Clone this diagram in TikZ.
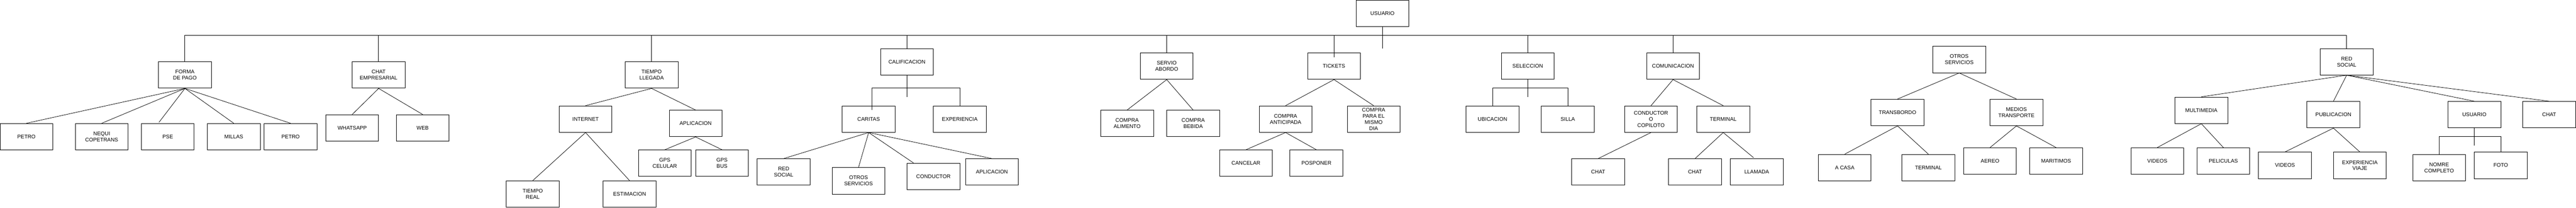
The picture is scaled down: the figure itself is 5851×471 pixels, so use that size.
\documentclass[tikz,border=0pt]{standalone}
\usepackage{fontspec}
\setmainfont{Liberation Sans}
\begin{document}
\begin{tikzpicture}[x=1pt,y=1pt,line width=1pt,
    caja/.style={draw,fill=white,minimum width=120pt,minimum height=60pt,inner sep=2pt,align=center,font=\fontsize{12}{14}\selectfont},
    rama/.style={line width=0.9pt}]
    \useasboundingbox (0,0) rectangle (5851,-471);
    % raiz y primer nivel
    \node[caja] (usuario) at (3140,-30) {USUARIO};
    \node[caja] (forma) at (420,-170) {FORMA\\DE PAGO};
    \node[caja] (chatemp) at (860,-170) {CHAT\\EMPRESARIAL};
    \node[caja] (tllegada) at (1480,-170) {TIEMPO\\LLEGADA};
    \node[caja] (calif) at (2060,-140) {CALIFICACION};
    \node[caja] (servicio) at (2650,-150) {SERVIO\\ABORDO};
    \node[caja] (tickets) at (3030,-150) {TICKETS};
    \node[caja] (seleccion) at (3470,-150) {SELECCION};
    \node[caja] (comunic) at (3800,-150) {COMUNICACION};
    \node[caja] (otros) at (4450,-135) {OTROS\\SERVICIOS};
    \node[caja] (redsocial) at (5330,-140) {RED\\SOCIAL};
    % forma de pago
    \node[caja] (petroa) at (60,-310) {PETRO};
    \node[caja] (nequi) at (231,-310) {NEQUI\\COPETRANS};
    \node[caja] (pse) at (381,-310) {PSE};
    \node[caja] (millas) at (531,-310) {MILLAS};
    \node[caja] (petrob) at (660,-310) {PETRO};
    % chat empresarial
    \node[caja] (whatsapp) at (800,-290) {WHATSAPP};
    \node[caja] (web) at (960,-290) {WEB};
    % tiempo llegada
    \node[caja] (internet) at (1330,-270) {INTERNET};
    \node[caja] (treal) at (1210,-440) {TIEMPO\\REAL};
    \node[caja] (estimacion) at (1430,-440) {ESTIMACION};
    \node[caja] (aplicacion) at (1580,-280) {APLICACION};
    \node[caja] (gpscel) at (1510,-370) {GPS\\CELULAR};
    \node[caja] (gpsbus) at (1640,-370) {GPS\\BUS};
    % calificacion
    \node[caja] (caritas) at (1973,-270) {CARITAS};
    \node[caja] (experiencia) at (2180,-270) {EXPERIENCIA};
    \node[caja] (redcar) at (1780,-390) {RED\\SOCIAL};
    \node[caja] (otroscar) at (1950,-410) {OTROS\\SERVICIOS};
    \node[caja] (conductor) at (2120,-400) {CONDUCTOR};
    \node[caja] (aplicar) at (2253,-390) {APLICACION};
    % servicio abordo
    \node[caja] (alimento) at (2560,-280) {COMPRA\\ALIMENTO};
    \node[caja] (bebida) at (2710,-280) {COMPRA\\BEBIDA};
    % tickets
    \node[caja] (anticipada) at (2920,-270) {COMPRA\\ANTICIPADA};
    \node[caja] (cancelar) at (2830,-370) {CANCELAR};
    \node[caja] (posponer) at (2990,-370) {POSPONER};
    \node[caja] (mismodia) at (3120,-270) {COMPRA\\PARA EL\\MISMO\\DIA};
    % seleccion
    \node[caja] (ubicacion) at (3390,-270) {UBICACION};
    \node[caja] (silla) at (3561,-270) {SILLA};
    % comunicacion
    \node[caja] (copiloto) at (3750,-270) {CONDUCTOR\\O\\COPILOTO};
    \node[caja] (terminal) at (3914,-270) {TERMINAL};
    \node[caja] (chata) at (3630,-390) {CHAT};
    \node[caja] (chatb) at (3850,-390) {CHAT};
    \node[caja] (llamada) at (3990,-390) {LLAMADA};
    % otros servicios
    \node[caja] (transbordo) at (4310,-255) {TRANSBORDO};
    \node[caja] (medios) at (4580,-255) {MEDIOS\\TRANSPORTE};
    \node[caja] (acasa) at (4190,-380) {A CASA};
    \node[caja] (terminalb) at (4380,-380) {TERMINAL};
    \node[caja] (aereo) at (4520,-365) {AEREO};
    \node[caja] (maritimos) at (4670,-365) {MARITIMOS};
    % red social
    \node[caja] (multimedia) at (5000,-250) {MULTIMEDIA};
    \node[caja] (videosa) at (4900,-365) {VIDEOS};
    \node[caja] (peliculas) at (5050,-365) {PELICULAS};
    \node[caja] (publicacion) at (5300,-260) {PUBLICACION};
    \node[caja] (videosb) at (5190,-375) {VIDEOS};
    \node[caja] (viaje) at (5360,-375) {EXPERIENCIA\\VIAJE};
    \node[caja] (usuariob) at (5620,-260) {USUARIO};
    \node[caja] (chatc) at (5790,-260) {CHAT};
    \node[caja] (nombre) at (5540,-380) {NOMRE\\COMPLETO};
    \node[caja] (foto) at (5680,-375) {FOTO};
    % barra principal
    \coordinate (bus) at (3140,-80);
    \draw (usuario.south) -- ++(0,-50);
    \draw (forma.north) |- (bus) -| (redsocial.north);
    \foreach \n in {chatemp,tllegada,calif,servicio,seleccion,comunic}
        \draw (\n.north |- bus) -- (\n.north);
    \draw (tickets.north |- bus) -- ++(0,-50);
    % barras en angulo
    \coordinate (calbus) at (2060,-200);
    \draw (calif.south) -- ++(0,-50);
    \draw ([xshift=7pt,yshift=-10pt]caritas.north) |- (calbus) -| (experiencia.north);
    \coordinate (selbus) at (3470,-200);
    \draw (seleccion.south) -- ++(0,-40);
    \draw (ubicacion.north) |- (selbus) -| (silla.north);
    \coordinate (usbus) at (5620,-310);
    \draw (usuariob.south) -- ++(0,-40);
    \draw (nombre.north) |- (usbus) -| (foto.north);
    % ramas
    \foreach \a/\b in {forma/petroa,forma/nequi,forma/millas,forma/petrob,
        chatemp/whatsapp,chatemp/web,tllegada/internet,tllegada/aplicacion,
        internet/treal,internet/estimacion,aplicacion/gpscel,aplicacion/gpsbus,
        caritas/redcar,caritas/otroscar,caritas/aplicar,servicio/alimento,servicio/bebida,
        tickets/anticipada,tickets/mismodia,anticipada/cancelar,anticipada/posponer,
        comunic/copiloto,comunic/terminal,copiloto/chata,terminal/chatb,
        otros/transbordo,otros/medios,transbordo/acasa,transbordo/terminalb,
        medios/aereo,medios/maritimos,redsocial/multimedia,redsocial/publicacion,
        redsocial/usuariob,redsocial/chatc,multimedia/videosa,multimedia/peliculas,
        publicacion/videosb,publicacion/viaje}
        \draw[rama] (\a.south) -- (\b.north);
    \draw[rama] (forma.south) -- ([xshift=-20pt,yshift=2pt]pse.north);
    \draw[rama] (caritas.south) -- ([xshift=-45pt]conductor.north);
    \draw[rama] (terminal.south) -- ([xshift=-7pt,yshift=2pt]llamada.north);
\end{tikzpicture}
\end{document}
